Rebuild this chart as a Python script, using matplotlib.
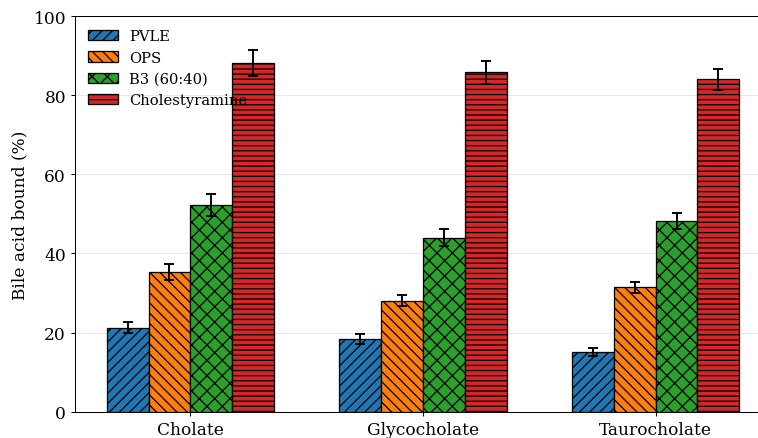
import matplotlib
matplotlib.use("Agg")
import matplotlib.pyplot as plt
import numpy as np

plt.rcParams['font.family'] = ['DejaVu Serif']
plt.rcParams['hatch.linewidth'] = 1.0

categories = ["Cholate", "Glycocholate", "Taurocholate"]
series = ["PVLE", "OPS", "B3 (60:40)", "Cholestyramine"]
pvle = [21.2, 18.3, 15.0]
ops = [35.2, 28.1, 31.4]
b3 = [52.2, 44.0, 48.1]
chol = [88.1, 85.8, 84.0]
pvle_err = [1.4, 1.3, 1.0]
ops_err = [2.0, 1.5, 1.5]
b3_err = [2.8, 2.1, 2.0]
chol_err = [3.2, 2.9, 2.7]

values = [pvle, ops, b3, chol]
errors = [pvle_err, ops_err, b3_err, chol_err]
colors = ["#1f77b4", "#ff7f0e", "#2ca02c", "#d62728"]
hatches = ["///", "\\\\\\", "xx", "---"]

DPI = 92
W, H = 758, 439
fig = plt.figure(figsize=(W / DPI, H / DPI), dpi=DPI)
ax = fig.add_axes([75 / W, 26.3 / H, 696 / W, 395.7 / H])

x = np.arange(len(categories))
w = 0.18
for i, (vals, errs) in enumerate(zip(values, errors)):
    pos = x + (i - 1.5) * w
    ax.bar(pos, vals, w, yerr=errs, color=colors[i], edgecolor="black",
           linewidth=1.0, hatch=hatches[i], label=series[i],
           error_kw=dict(ecolor="black", elinewidth=1.5, capsize=4.3, capthick=1.5),
           zorder=3)

ax.set_ylim(0, 100)
ax.set_yticks([0, 20, 40, 60, 80, 100])
ax.set_xticks(x)
ax.set_xticklabels(categories, fontsize=13.3)
ax.tick_params(axis='y', labelsize=13.3)
ax.set_ylabel("Bile acid bound (%)", fontsize=13.3)
ax.yaxis.grid(True, color="#e8e8e8", linewidth=0.8, zorder=0)
ax.set_axisbelow(True)
ax.spines['right'].set_visible(False)

ax.legend(loc="upper left", frameon=False, fontsize=11.5)

fig.savefig("out.png", dpi=DPI)
